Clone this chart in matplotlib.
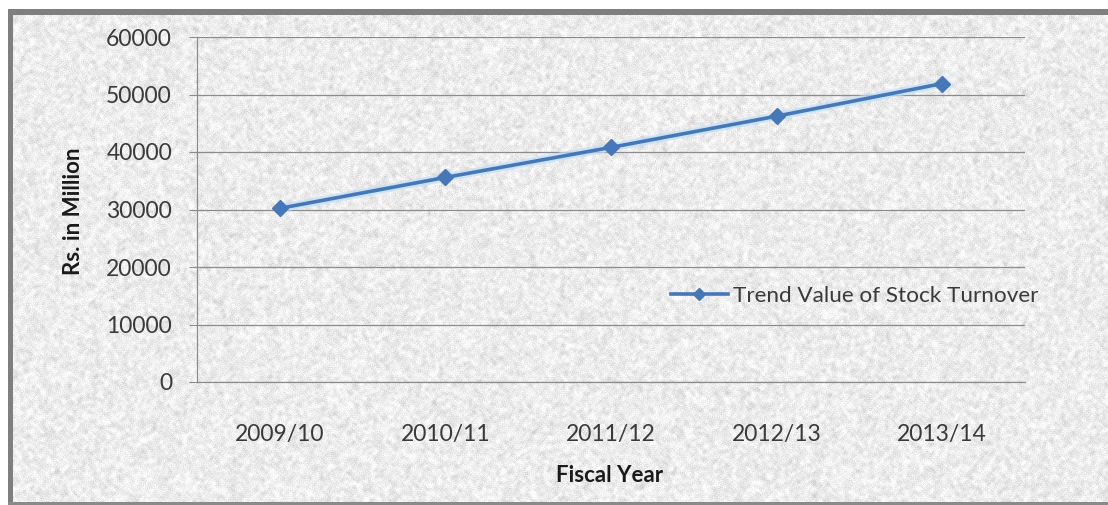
import numpy as np
import matplotlib
matplotlib.use("Agg")
import matplotlib.pyplot as plt
from matplotlib.lines import Line2D

# Trend values of stock turnover (Rs. in Million)
years = ["2009/10", "2010/11", "2011/12", "2012/13", "2013/14"]
trend_values = [30200, 35580, 40800, 46230, 51900]
y_ticks = [0, 10000, 20000, 30000, 40000, 50000, 60000]

W, H = 1108, 505
fig = plt.figure(figsize=(W / 100, H / 100), dpi=100)
fig.patch.set_facecolor("white")

# Granite-style paper texture behind the chart
bg = fig.add_axes([0, 0, 1, 1], zorder=0)
bg.set_axis_off()
rng = np.random.default_rng(7)
noise = rng.normal(0, 1, (H, W))
k = 2
pad = np.pad(noise, k, mode="reflect")
sm = np.zeros_like(noise)
for dy in range(-k, k + 1):
    for dx in range(-k, k + 1):
        sm += pad[k + dy:k + dy + H, k + dx:k + dx + W]
sm /= (2 * k + 1) ** 2
tex = 236 + sm * 24 + noise * 7
tex = np.clip(tex, 200, 252) / 255.0
tex[:9, :] = 1.0
tex[:, :8] = 1.0
bg.imshow(tex, cmap="gray", vmin=0, vmax=1, extent=[0, W, H, 0], aspect="auto",
          interpolation="bilinear")
# Frame edges
bg.fill_between([8, W], 9, 15, color="#7f7f7f", lw=0)
bg.fill_between([8, 13], 9, H, color="#7f7f7f", lw=0)
bg.fill_between([8, W], 502, H, color="#8a8a8a", lw=0)
bg.set_xlim(0, W)
bg.set_ylim(H, 0)

ax = fig.add_axes([197 / W, 1 - 382 / H, (1025 - 197) / W, (382 - 37) / H], zorder=1)
ax.patch.set_alpha(0)

x = np.arange(len(years))
blue = "#4677b8"
# soft halo under the line
ax.plot(x, trend_values, color="#bfe0f7", lw=6, alpha=0.7, solid_capstyle="round", zorder=2)
ax.plot(x, trend_values, color=blue, lw=2.6, marker="D", markersize=8,
        markeredgecolor=blue, zorder=3)

ax.set_xlim(-0.5, len(years) - 0.5)
ax.set_ylim(0, 60000)
ax.set_yticks(y_ticks)
ax.set_yticklabels([str(v) for v in y_ticks])
ax.set_xticks(x)
ax.set_xticklabels(years)
ax.grid(axis="y", color="#8c8c8c", lw=0.9)
ax.set_axisbelow(True)
for s in ["top", "right"]:
    ax.spines[s].set_visible(False)
for s in ["left", "bottom"]:
    ax.spines[s].set_color("#8c8c8c")
    ax.spines[s].set_linewidth(0.9)
ax.tick_params(axis="y", length=6, color="#8c8c8c", pad=12, labelsize=16.5, labelcolor="#3a3a3a")
ax.tick_params(axis="x", length=0, pad=30, labelsize=16.5, labelcolor="#3a3a3a")
for lab in ax.get_xticklabels() + ax.get_yticklabels():
    lab.set_fontfamily("Lato")

fig.text(73 / W, 1 - 211 / H, "Rs. in Million", rotation=90, ha="center", va="center",
         fontsize=16, fontweight="bold", family="Lato", color="#1a1a1a")
fig.text(610 / W, 1 - 476 / H, "Fiscal Year", ha="center", va="center",
         fontsize=16, fontweight="bold", family="Lato", color="#1a1a1a")

handle = Line2D([], [], color=blue, lw=2.6, marker="D", markersize=6.5)
leg = fig.legend([handle], ["Trend Value of Stock Turnover"], loc="center left",
                 bbox_to_anchor=(651 / W, 1 - 296 / H), frameon=False,
                 prop={"family": "Lato", "size": 16.2}, handlelength=2.5, handletextpad=0.25)
for t in leg.get_texts():
    t.set_color("#3a3a3a")

fig.savefig("out.png", dpi=100)
